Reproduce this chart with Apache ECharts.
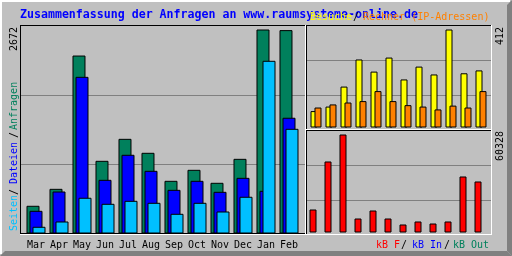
<!DOCTYPE html>
<html><head><meta charset="utf-8">
<script src="https://cdn.jsdelivr.net/npm/echarts@6/dist/echarts.min.js"></script>
<style>html,body{margin:0;padding:0;background:#c0c0c0}#c{width:512px;height:256px}</style>
</head><body><div id="c"></div>
<script>
// ---- data ----
const months = ['Mar','Apr','May','Jun','Jul','Aug','Sep','Oct','Nov','Dec','Jan','Feb'];
const hits   = [363, 585, 2331, 952, 1240, 1057, 690, 834, 664, 978, 2672, 2664];
const files  = [297, 550, 2052, 703, 1031, 821, 572, 690, 546, 729, 559, 1516];
const pages  = [88, 157, 468, 389, 428, 402, 258, 402, 288, 481, 2262, 1371];
const visits = [69, 88, 172, 286, 235, 294, 202, 256, 223, 412, 228, 240];
const sites  = [84, 97, 105, 111, 153, 111, 94, 88, 76, 92, 84, 153];
const kbytes = [14159, 43708, 60328, 8618, 13543, 8618, 4925, 6772, 5540, 6772, 34474, 31396];
const maxHits = 2672, maxVisits = 412, maxKB = 60328;
const titleText = 'Zusammenfassung der Anfragen an www.raumsysteme-online.de';

// ---- styles ----
const MONO = 'DejaVu Sans Mono';
const C = {bg:'#c0c0c0', dk:'#808080', green:'#00805c', blue:'#0000ff', cyan:'#00c0ff',
           yellow:'#ffff00', orange:'#ff8000', red:'#ff0000', black:'#000000', white:'#ffffff'};

const chart = echarts.init(document.getElementById('c'), null, {renderer:'canvas'});

function frameAxisY(gi){
  return {type:'value', gridIndex:gi, min:0, max:3, interval:1,
    axisLine:{show:false}, axisTick:{show:false}, axisLabel:{show:false},
    splitLine:{show:true, showMinLine:false, showMaxLine:false, lineStyle:{color:C.dk, width:1}}};
}
function hiddenX(gi){ return {type:'value', gridIndex:gi, min:0, max:1, show:false}; }
function catX(gi, showLabels){
  return {type:'category', gridIndex:gi, data:months, boundaryGap:true,
    axisLine:{show:false}, axisTick:{show:false},
    axisLabel:{show:showLabels, interval:0, fontFamily:MONO, fontSize:10, color:C.black,
               margin:11.5, verticalAlign:'middle'},
    splitLine:{show:false}};
}
function valY(gi, max){
  return {type:'value', gridIndex:gi, min:0, max:max, show:false, splitLine:{show:false}};
}
function bar(name, xi, data, color, bw, gap){
  return {type:'bar', name, xAxisIndex:xi, yAxisIndex:xi, data, barWidth:bw, barGap:gap,
    itemStyle:{color, borderColor:C.black, borderWidth:1}, silent:true};
}
function line(x1,y1,x2,y2,color){
  return {type:'line', z:100, silent:true, shape:{x1,y1,x2,y2}, style:{stroke:color, lineWidth:1}};
}
function txt(x,y,text,color,size,opts){
  return Object.assign({type:'text', z:101, silent:true, x, y,
    style:{text, fill:color, font:(opts&&opts.bold?'bold ':'')+size+'px "'+MONO+'"',
      align:(opts&&opts.align)||'left', verticalAlign:'middle'}},
    opts&&opts.rot?{rotation:Math.PI/2}:{});
}

const graphics = [
  // outer bevel
  {type:'polygon', z:99, silent:true, shape:{points:[[512,0],[507,5],[507,251],[512,256]]}, style:{fill:C.dk}},
  {type:'polygon', z:99, silent:true, shape:{points:[[0,256],[5,251],[507,251],[512,256]]}, style:{fill:C.dk}},
  {type:'rect', z:99, silent:true, shape:{x:0,y:0,width:510,height:2}, style:{fill:C.white}},
  {type:'rect', z:99, silent:true, shape:{x:0,y:0,width:2,height:254}, style:{fill:C.white}},
  // main panel frame
  line(20,25.5,305,25.5,C.black), line(20.5,25,20.5,234,C.black), line(20,233.5,305,233.5,C.black),
  line(305.5,25,305.5,235,C.white), line(20,234.5,306,234.5,C.white),
  // top-right panel
  line(306,25.5,492,25.5,C.black), line(306.5,25,306.5,130,C.black),
  line(491.5,25,491.5,131,C.white), line(306,129.5,492,129.5,C.white),
  // bottom-right panel
  line(306,130.5,492,130.5,C.black), line(306.5,130,306.5,234,C.black),
  line(491.5,130,491.5,235,C.white), line(306,234.5,492,234.5,C.white),
  // title + legends
  txt(20,15,titleText,C.blue,11.6,{bold:true}),
  txt(310,17,'Besuche',C.yellow,10), txt(353,17,'/',C.black,10), txt(363,17,'Rechner (IP-Adressen)',C.orange,10),
  txt(376,245,'kB F',C.red,10), txt(401,245,'/',C.black,10), txt(412,245,'kB In',C.blue,10),
  txt(444,245,'/',C.black,10), txt(453,245,'kB Out',C.green,10),
  // vertical labels (left)
  txt(14.3,231,'Seiten',C.cyan,10,{rot:true}), txt(14.3,195,'/',C.black,10,{rot:true}),
  txt(14.3,184,'Dateien',C.blue,10,{rot:true}), txt(14.3,138,'/',C.black,10,{rot:true}),
  txt(14.3,130,'Anfragen',C.green,10,{rot:true}),
  txt(14.3,51,String(maxHits),C.black,10,{rot:true}),
  txt(500,45,String(maxVisits),C.black,10,{rot:true}),
  txt(500,161,String(maxKB),C.black,10,{rot:true})
];

chart.setOption({
  animation:false,
  backgroundColor:C.bg,
  grid:[
    {left:21, top:26, width:284, height:207},      // 0 main frame (grid lines)
    {left:24.5, top:29.5, width:276, height:204},  // 1 main bars
    {left:307, top:25, width:184, height:105},     // 2 top-right frame
    {left:308.5, top:29.5, width:180, height:98},  // 3 visits/sites bars
    {left:307, top:130, width:184, height:105},    // 4 bottom-right frame
    {left:305.5, top:134.5, width:180, height:98}  // 5 kB bars
  ],
  xAxis:[hiddenX(0), catX(1,true), hiddenX(2), catX(3,false), hiddenX(4), catX(5,false)],
  yAxis:[frameAxisY(0), valY(1,maxHits), frameAxisY(2), valY(3,maxVisits), frameAxisY(4), valY(5,maxKB)],
  series:[
    bar('Anfragen',1,hits,C.green,13,'-76.9%'),
    bar('Dateien',1,files,C.blue,13,'-76.9%'),
    bar('Seiten',1,pages,C.cyan,13,'-76.9%'),
    bar('Besuche',3,visits,C.yellow,7,'-42.86%'),
    bar('Rechner',3,sites,C.orange,7,'-42.86%'),
    bar('kB F',5,kbytes,C.red,7,'0%')
  ],
  graphic:graphics
});
</script></body></html>
